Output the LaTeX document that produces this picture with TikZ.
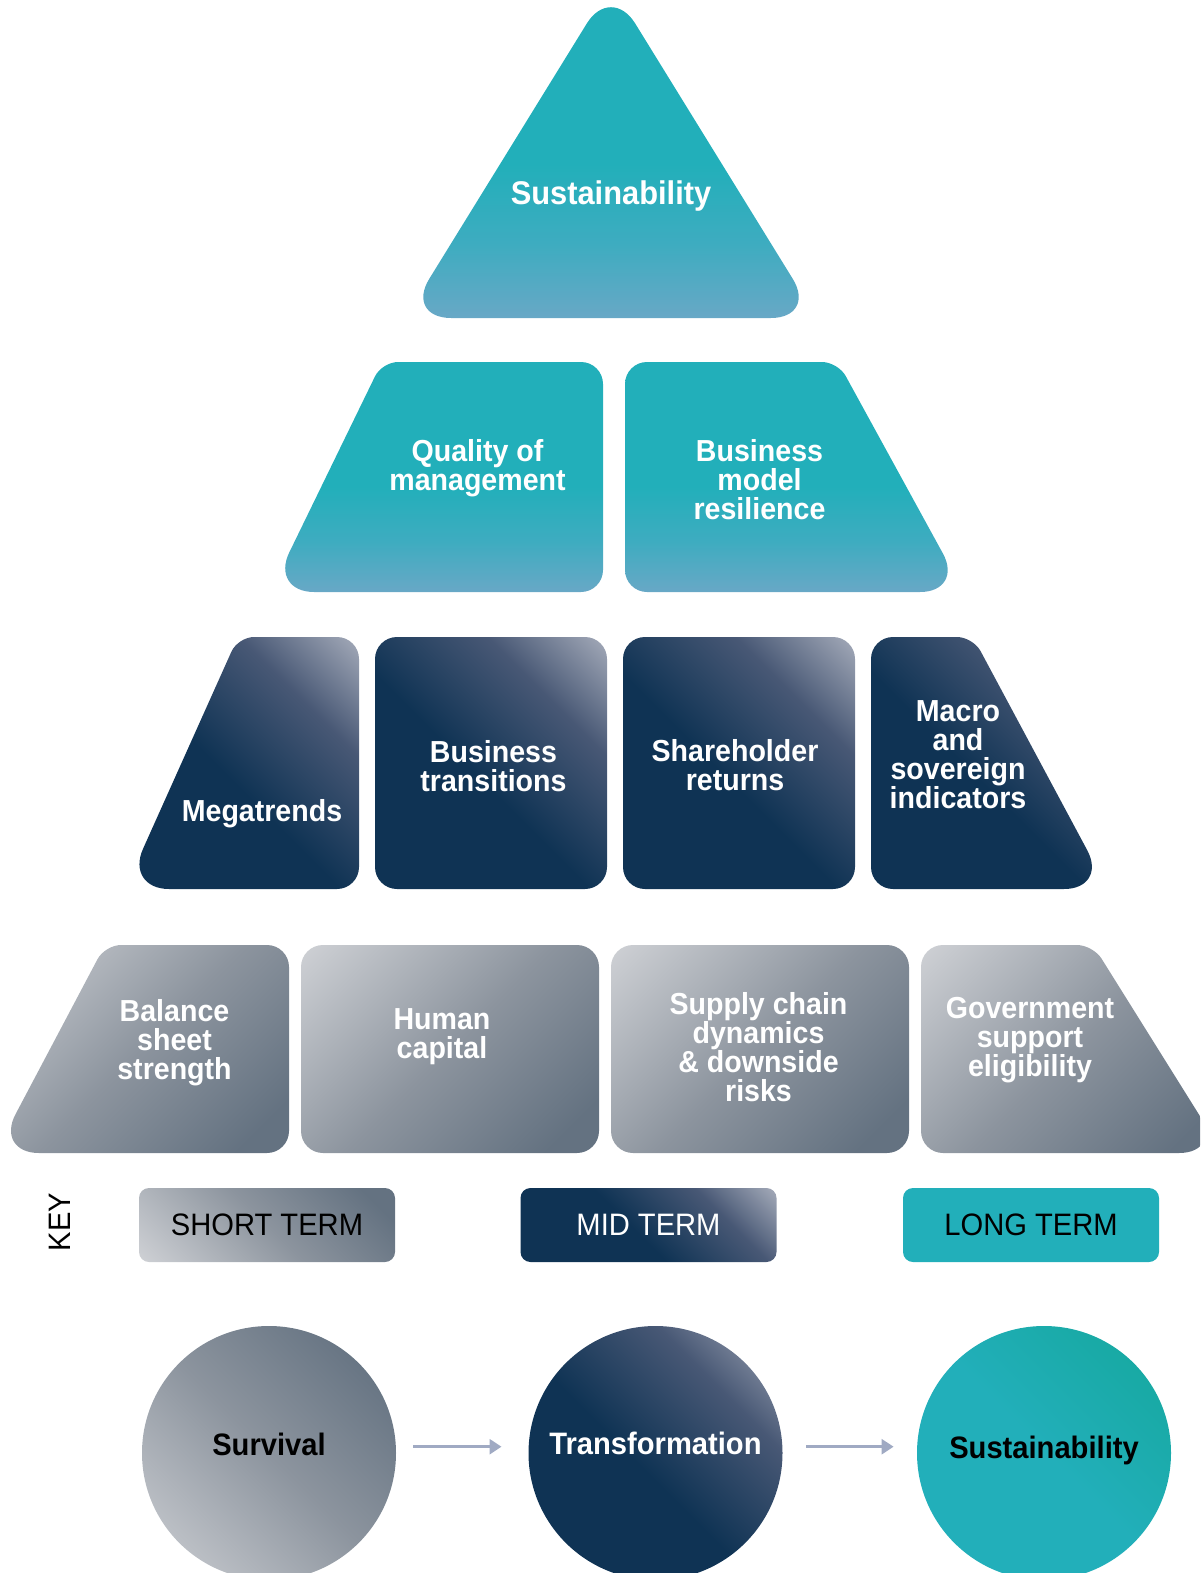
\documentclass[tikz,border=0pt]{standalone}
\usepackage{fontspec}
\setmainfont{Liberation Sans}[FakeStretch=0.94]
\usetikzlibrary{arrows.meta}

\definecolor{pillarteal}{RGB}{34,175,186}
\definecolor{pillartealmid}{RGB}{62,172,192}
\definecolor{pillartealpale}{RGB}{104,168,198}
\definecolor{pillarnavy}{RGB}{15,51,84}
\definecolor{pillarnavymid}{RGB}{72,88,117}
\definecolor{pillarnavypale}{RGB}{168,174,188}
\definecolor{pillargray}{RGB}{100,114,129}
\definecolor{pillargraymid}{RGB}{140,148,158}
\definecolor{pillargraypale}{RGB}{208,210,214}
\definecolor{pillargreen}{RGB}{20,167,155}
\definecolor{pillararrow}{RGB}{160,170,195}

% fades used by the three horizons
\pgfdeclareverticalshading{tealfade}{100bp}{color(0bp)=(pillartealpale); color(25bp)=(pillartealpale); color(36bp)=(pillartealmid); color(48bp)=(pillarteal); color(100bp)=(pillarteal)}
\pgfdeclareverticalshading{navyfade}{100bp}{color(0bp)=(pillarnavy); color(46bp)=(pillarnavy); color(68bp)=(pillarnavymid); color(86bp)=(pillarnavypale); color(100bp)=(pillarnavypale)}
\pgfdeclareverticalshading{grayfade}{100bp}{color(0bp)=(pillargray); color(22bp)=(pillargray); color(50bp)=(pillargraymid); color(86bp)=(pillargraypale); color(100bp)=(pillargraypale)}
\pgfdeclareverticalshading{tealglow}{100bp}{color(0bp)=(pillarteal); color(50bp)=(pillarteal); color(86bp)=(pillargreen); color(100bp)=(pillargreen)}

\begin{document}
\begin{tikzpicture}[x=.5pt,y=-.5pt,
    tealbox/.style={shade,shading=tealfade,rounded corners=11pt},
    navybox/.style={shade,shading=navyfade,shading angle=-45,rounded corners=11pt},
    graybox/.style={shade,shading=grayfade,shading angle=45,rounded corners=11pt},
    pillar/.style={text=white,align=center,inner sep=0pt,
      font={\bfseries\fontsize{15.2}{14.5}\selectfont\lineskiplimit=-20pt}},
    termbox/.style={shade,rounded corners=5pt,minimum width=128pt,minimum height=37pt,
      inner sep=0pt,font=\fontsize{15.5}{18}\selectfont},
    stage/.style={shade,circle,minimum size=127pt,inner sep=0pt,text height=11pt,
      font=\bfseries\fontsize{15.5}{18}\selectfont},
    flow/.style={pillararrow,line width=1.3pt,-{Triangle[length=6pt,width=7.5pt]}}]
  \useasboundingbox (0,0) rectangle (1200,1573);
  \clip (0,0) rectangle (1200,1573);

  % long term: apex and second row
  \path[tealbox,rounded corners=23pt] (611,318) -- (405.1,318) -- (611,-15.7) -- (816.9,318) -- cycle;
  \path[tealbox] (490,592) [rounded corners=22pt] -- (270,592) [rounded corners=8pt]
    -- (382,362) [rounded corners=11pt] -- (603,362) -- (603,592) -- cycle;
  \path[tealbox] (731,592) -- (625,592) -- (625,362) [rounded corners=8pt]
    -- (838,362) [rounded corners=22pt] -- (964,592) -- cycle;

  % mid term row
  \path[navybox] (242,889) [rounded corners=22pt] -- (125,889) [rounded corners=8pt]
    -- (238,637) [rounded corners=11pt] -- (359,637) -- (359,889) -- cycle;
  \foreach \a/\b in {375/607,623/855} {
    \path[navybox] (\a,637) rectangle (\b,889);
  }
  \path[navybox] (990,889) -- (871,889) -- (871,637) [rounded corners=8pt]
    -- (973,637) [rounded corners=22pt] -- (1108,889) -- cycle;

  % short term row
  \path[graybox] (142,1153) [rounded corners=22pt] -- (-5,1153) [rounded corners=8pt]
    -- (105,945) [rounded corners=11pt] -- (289,945) -- (289,1153) -- cycle;
  \foreach \a/\b in {301/599,611/909} {
    \path[graybox] (\a,945) rectangle (\b,1153);
  }
  \path[graybox] (1072,1153) -- (921,1153) -- (921,945) [rounded corners=8pt]
    -- (1093,945) [rounded corners=22pt] -- (1223,1153) -- cycle;

  \node[pillar,font=\bfseries\fontsize{16.4}{18}\selectfont,anchor=base]
    (sustainability) at (611,205) {Sustainability};
  \node[pillar] (management) at (477.5,468) {Quality of\\management};
  \node[pillar] (resilience) at (759.5,480) {Business\\model\\resilience};

  \node[pillar,anchor=base] (megatrends) at (262,821.7) {Megatrends};
  \node[pillar] (transitions) at (493.5,766.5) {Business\\transitions};
  \node[pillar] (returns) at (735,765) {Shareholder\\returns};
  \node[pillar] (macro) at (958,755) {Macro\\and\\sovereign\\indicators};

  \node[pillar] (balance) at (174.5,1042.5) {Balance\\sheet\\strength};
  \node[pillar] (human) at (442,1036.7) {Human\\capital};
  \node[pillar] (supply) at (758.5,1047) {Supply chain\\dynamics\\\& downside\\risks};
  \node[pillar] (government) at (1030,1040) {Government\\support\\eligibility};

  % key
  \node[rotate=90,inner sep=0pt,font=\fontsize{15.5}{18}\selectfont] (key) at (60,1222) {KEY};
  \node[termbox,shading=grayfade,shading angle=135] (shortterm) at (267,1225) {SHORT TERM};
  \node[termbox,shading=navyfade,shading angle=-45,text=white] (midterm) at (648.5,1225) {MID TERM};
  \node[termbox,fill=pillarteal,shade=false] (longterm) at (1031,1225) {LONG TERM};

  % horizons
  \node[stage,shading=grayfade,shading angle=135,text depth=9pt] (survival) at (269,1453) {Survival};
  \node[stage,shading=navyfade,shading angle=-45,text depth=10pt,text=white]
    (transformation) at (655.5,1453) {Transformation};
  \node[stage,shading=tealglow,shading angle=-45,text depth=6pt] (horizon) at (1044,1453) {Sustainability};

  \draw[flow,shorten <=8.5pt,shorten >=13.3pt]
    ([yshift=3.15pt]survival.east) -- ([yshift=3.15pt]transformation.west);
  \draw[flow,shorten <=11.7pt,shorten >=11.5pt]
    ([yshift=3.15pt]transformation.east) -- ([yshift=3.15pt]horizon.west);
\end{tikzpicture}
\end{document}
